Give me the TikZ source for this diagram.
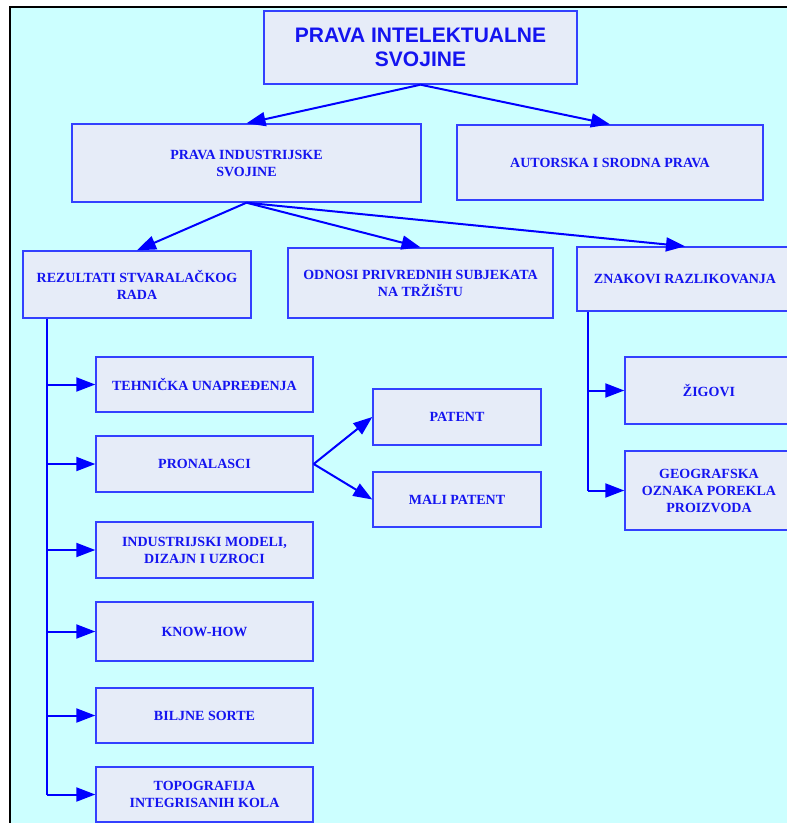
\documentclass[tikz,border=0pt]{standalone}
\usepackage{fontspec}
\setmainfont{Liberation Serif}
\newfontfamily\titlefont{Liberation Sans}
\usetikzlibrary{arrows.meta,calc}
\definecolor{bgcyan}{HTML}{CCFFFF}
\definecolor{boxfill}{HTML}{E6ECF8}
\definecolor{boxline}{HTML}{3340FF}
\definecolor{txtblue}{HTML}{1414F0}
\definecolor{arrblue}{HTML}{0000FF}
\tikzset{
  bx/.style={draw=boxline, line width=1.4pt, fill=boxfill, text=txtblue, align=center,
    inner sep=0pt, font=\bfseries\fontsize{14}{17}\selectfont},
  titlebx/.style={bx, font=\titlefont\bfseries\fontsize{21}{24}\selectfont},
  arr/.style={draw=arrblue, line width=2pt, -{Triangle[length=19pt,width=14pt]}},
  plainln/.style={draw=arrblue, line width=2pt}
}
\begin{document}
\begin{tikzpicture}[x=1pt,y=-1pt]
\useasboundingbox (0,0) rectangle (787,823);
\clip (0,0) rectangle (787,823);
\fill[white] (0,0) rectangle (787,823);
\fill[bgcyan] (10,7) rectangle (800,830);
\draw[black, line width=2.5pt] (10,830) -- (10,7) -- (800,7);

\node[titlebx, minimum width=313pt, minimum height=73pt] (top) at (420.5,47.5) {PRAVA INTELEKTUALNE\\SVOJINE};
\node[bx, minimum width=349pt, minimum height=78pt] (pis) at (246.5,163) {PRAVA INDUSTRIJSKE\\SVOJINE};
\node[bx, minimum width=306pt, minimum height=75pt] (asp) at (610,162.5) {AUTORSKA I SRODNA PRAVA};
\node[bx, minimum width=228pt, minimum height=67pt] (rez) at (137,284.5) {REZULTATI STVARALAČKOG\\RADA};
\node[bx, minimum width=265pt, minimum height=70pt] (odn) at (420.5,283) {ODNOSI PRIVREDNIH SUBJEKATA\\NA TRŽIŠTU};
\node[bx, minimum width=216pt, minimum height=64pt] (znk) at (685,279) {ZNAKOVI RAZLIKOVANJA};

\node[bx, minimum width=217pt, minimum height=55pt] (teh) at (204.5,384.5) {TEHNIČKA UNAPREĐENJA};
\node[bx, minimum width=217pt, minimum height=56pt] (pron) at (204.5,464) {PRONALASCI};
\node[bx, minimum width=217pt, minimum height=56pt] (ind) at (204.5,550) {INDUSTRIJSKI MODELI,\\DIZAJN I UZROCI};
\node[bx, minimum width=217pt, minimum height=59pt] (know) at (204.5,631.5) {KNOW-HOW};
\node[bx, minimum width=217pt, minimum height=55pt] (bil) at (204.5,715.5) {BILJNE SORTE};
\node[bx, minimum width=217pt, minimum height=55pt] (topo) at (204.5,794.5) {TOPOGRAFIJA\\INTEGRISANIH KOLA};

\node[bx, minimum width=168pt, minimum height=56pt] (pat) at (457,417) {PATENT};
\node[bx, minimum width=168pt, minimum height=55pt] (mali) at (457,499.5) {MALI PATENT};

\node[bx, minimum width=168pt, minimum height=67pt] (zig) at (709,390.5) {ŽIGOVI};
\node[bx, minimum width=168pt, minimum height=79pt] (geo) at (709,490.5) {GEOGRAFSKA\\OZNAKA POREKLA\\PROIZVODA};

\draw[arr] (top.south) -- (pis.north);
\draw[arr] (top.south) -- (asp.north);
\draw[arr] (pis.south) -- (rez.north);
\draw[arr] (pis.south) -- (odn.north);
\draw[arr] (pis.south) -- (znk.north);

\coordinate (rv) at ($(rez.south west)+(25,0)$);
\draw[plainln] (rv) -- (rv |- topo.west);
\foreach \c in {teh,pron,ind,know,bil,topo}{
  \draw[arr] (rv |- \c.west) -- (\c.west);
}

\draw[arr] (pron.east) -- (pat.west);
\draw[arr] (pron.east) -- (mali.west);

\coordinate (zv) at ($(znk.south west)+(12,0)$);
\draw[plainln] (zv) -- (zv |- geo.west);
\draw[arr] (zv |- zig.west) -- (zig.west);
\draw[arr] (zv |- geo.west) -- (geo.west);
\end{tikzpicture}
\end{document}
